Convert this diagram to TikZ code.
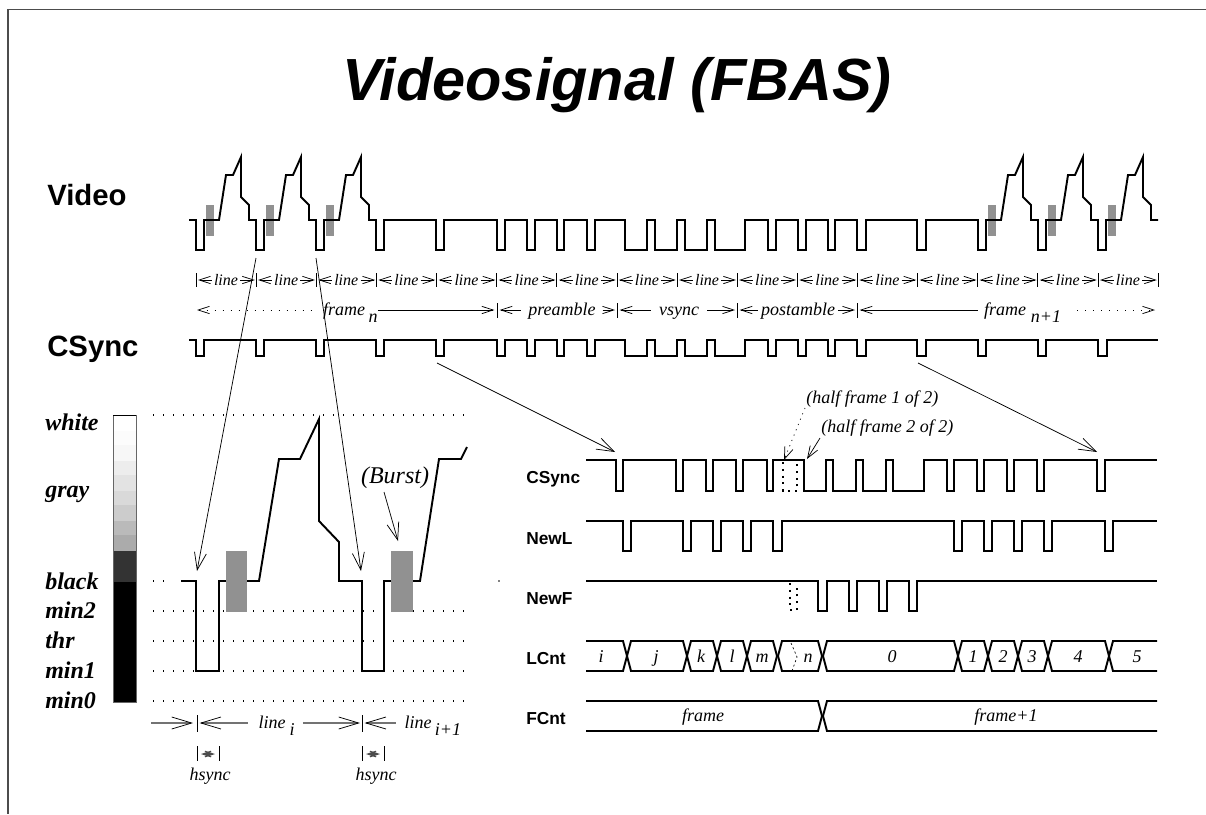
\documentclass[tikz,border=0pt]{standalone}
\usepackage{fontspec}
\setmainfont{Liberation Serif}
\setsansfont{Liberation Sans}
\usepackage{tikz}
\usetikzlibrary{arrows.meta, calc}

% edges of the sync pulses that all trains share
\def\midpulses{376/384,436/444,497/505,527/535,557/564,587/595,625/647,655/677,685/707,715/745,768/776,798/806,828/835,857/866,917/926}
\edef\csynclist{196/204,256/264,316/324,\midpulses,978/986,1038/1046,1098/1107}

\newcommand{\vbump}[1]{-- (#1,220) -- (#1,250) -- ({#1+8},250) -- ({#1+8},220) -- ({#1+23},220) -- ({#1+30},175) -- ({#1+37},175) -- ({#1+45},157) -- ({#1+45},197) -- ({#1+53},205) -- ({#1+53},220)}
\newcommand{\pulsetrain}[5]{\draw[wave] (#1,#3) foreach \a/\b in #5 {-- (\a,#3) -- (\a,#4) -- (\b,#4) -- (\b,#3)} -- (#2,#3);}
\newcommand{\busends}[5]{%
    \draw[wave] (586,#1) -- (#4,#1) -- ({#4+4},#2) -- (#4,#3) -- (586,#3);
    \draw[wave] (1157,#1) -- (#5,#1) -- ({#5-4},#2) -- (#5,#3) -- (1157,#3);}

\begin{document}
\begin{tikzpicture}[x=0.75pt, y=-0.75pt,
        every node/.style={inner sep=0pt, text height=9pt, text depth=1.5pt},
        wave/.style={line width=1.45pt},
        levelline/.style={line width=.8pt, dash pattern=on .8pt off 6.7pt},
        dotwave/.style={line width=1.4pt, dash pattern=on 1.5pt off 3.6pt},
        tickline/.style={line width=.6pt},
        arr/.style={line width=.55pt, >={Straight Barb[length=13pt,width=9pt]}},
        rowarr/.style={line width=.55pt, >={Straight Barb[length=8.5pt,width=5.5pt]}},
        rowdots/.style={rowarr, dash pattern=on .8pt off 5.2pt},
        dimarr/.style={line width=1pt, black!55, >={Straight Barb[length=15pt,width=9pt,color=black,line width=.55pt]}},
        hsyncarr/.style={line width=1pt, black!70, >={Straight Barb[length=6pt,width=4pt]}},
        smallarr/.style={line width=.55pt, >={Straight Barb[length=9pt,width=6.5pt]}},
        sig/.style={font=\fontsize{13.5}{16}\selectfont\itshape},
        linetxt/.style={font=\fontsize{12}{14}\selectfont\itshape, inner xsep=1.5pt},
        lvlname/.style={anchor=west, font=\fontsize{18}{20}\selectfont\bfseries\itshape},
        bigname/.style={anchor=west, font=\fontsize{22}{24}\selectfont\sffamily\bfseries},
        rowname/.style={anchor=west, font=\fontsize{13}{15}\selectfont\sffamily\bfseries},
        burstbox/.style={fill=black!43},
    ]
    \useasboundingbox (0,0) rectangle (1206,814);

    % ---- Page frame ----
    \draw[black!70, line width=.8pt] (1206,9.5) -- (8,9.5) -- (8,814);

    \node[font=\fontsize{44.6}{48}\selectfont\sffamily\bfseries\itshape] (title) at (617,95) {Videosignal (FBAS)};

    % ---- Video trace ----
    \node[bigname] (video) at (47,200) {Video};
    \foreach \x in {196,256,316,978,1038,1098}
        \fill[burstbox] ({\x+10},205) rectangle ({\x+18},236);
    \draw[wave] (189,220) foreach \x in {196,256,316} {\vbump{\x}}
        foreach \a/\b in \midpulses {-- (\a,220) -- (\a,250) -- (\b,250) -- (\b,220)}
        foreach \x in {978,1038,1098} {\vbump{\x}} -- (1158,220);

    % ---- Line ticks ----
    \foreach \i in {0,...,16} {
        \coordinate (tick\i) at ({196+60.13*\i},280);
        \draw[tickline] ({196+60.13*\i},273) -- ({196+60.13*\i},287);
    }
    \foreach \i [evaluate=\i as \j using int(\i+1)] in {0,...,15} {
        \node[linetxt] (line\i) at ({226+60.13*\i},280) {line};
        \draw[rowarr, ->, shorten >=1.5pt] (line\i) -- (tick\i);
        \draw[rowarr, ->, shorten >=1pt] (line\i) -- (tick\j);
    }

    % ---- Frame row ----
    \coordinate (fstart) at (197,310);
    \coordinate (fend) at (1155,310);
    \coordinate (fdots) at (1077,310);
    \foreach \n/\x in {a/497,b/617,c/737,d/857} {
        \coordinate (f\n) at (\x,310);
        \draw[tickline] (\x,303) -- (\x,318);
    }
    \node[sig, inner xsep=7pt] (framen) at (344,310) {frame};
    \node[sig] (subn) at (373,317) {n};
    \node[sig, inner xsep=5pt] (pre) at (562,310) {preamble};
    \node[sig, inner xsep=6pt] (vsync) at (679,310) {vsync};
    \node[sig, inner xsep=2pt] (post) at (798,310) {postamble};
    \node[sig, inner xsep=4pt] (framem) at (1005,310) {frame};
    \node[sig] (subm) at (1046,317) {n+1};
    \draw[rowdots, <-] (fstart) -- (framen);
    \draw[rowarr, ->, shorten >=2pt] (subn.east |- fa) -- (fa);
    \draw[rowarr, <-, shorten <=2pt] (fa) -- (pre);
    \draw[rowarr, ->, shorten >=1.5pt] (pre) -- (fb);
    \draw[rowarr, <-, shorten <=2pt] (fb) -- (vsync);
    \draw[rowarr, ->, shorten >=1.5pt] (vsync) -- (fc);
    \draw[rowarr, <-, shorten <=2pt] (fc) -- (post);
    \draw[rowarr, ->, shorten >=1.5pt] (post) -- (fd);
    \draw[rowarr, <-, shorten <=2pt] (fd) -- (framem);
    \draw[rowdots, ->] (fdots) -- (fend);

    % ---- CSync trace ----
    \node[bigname] (csync) at (47,351) {CSync};
    \pulsetrain{189}{1158}{340}{356}{\csynclist}

    % ---- Gray scale bar ----
    \foreach \a/\b/\c in {415/431/0,431/445/1,445/461/3,461/475/7,475/491/11,491/505/15,505/521/20,521/535/27,535/551/33,551/582/80,582/702/100}
        \fill[black!\c] (113,\a) rectangle (136,\b);
    \draw[black!60, line width=.6pt] (113,415.5) rectangle (136,702);
    \draw[black, line width=.6pt] (113,415.5) -- (136,415.5);
    \foreach \n/\t/\y in {white/white/425,gray/gray/492,black/black/584,mintwo/min2/613,thr/thr/643,minone/min1/673,minzero/min0/703}
        \node[lvlname] (\n) at (45,\y) {\t};

    % ---- Level lines ----
    \foreach \y in {415,611,641,671,701}
        \draw[levelline] (153,\y) -- (467,\y);
    \draw[levelline] (153,581) -- (172,581);
    \fill (499,581) circle (.6pt);

    % ---- Enlarged video line ----
    \draw[wave] (181,581) -- (196,581) -- (196,671) -- (219,671) -- (219,581) -- (259,581)
        -- (279,459) -- (300,459) -- (319,419) -- (319,521) -- (339,542) -- (339,581)
        -- (362,581) -- (362,671) -- (384,671) -- (384,581) -- (420,581)
        -- (439,459) -- (461,459) -- (467,447);
    \fill[burstbox] (226,551) rectangle (247,612);
    \fill[burstbox] (391,551) rectangle (413,612);
    \node[font=\fontsize{18}{20}\selectfont\itshape] (burstlab) at (395,478) {(Burst)};
    \coordinate (burstfrom) at (384,492);
    \coordinate (bursttip) at (398,541);
    \draw[arr, ->] (burstfrom) -- (bursttip);

    % ---- Arrows from the traces to the enlargements ----
    \coordinate (va) at (256,258);
    \coordinate (vb) at (316,258);
    \coordinate (ca) at (197,571);
    \coordinate (cb) at (361,571);
    \coordinate (sa) at (437,363);
    \coordinate (sb) at (918,363);
    \coordinate (ta) at (615,452);
    \coordinate (tb) at (1097,452);
    \draw[arr, ->] (va) -- (ca);
    \draw[arr, ->] (vb) -- (cb);
    \draw[arr, ->] (sa) -- (ta);
    \draw[arr, ->] (sb) -- (tb);

    % ---- Line dimensions ----
    \coordinate (dstart) at (151,723);
    \coordinate (lta) at (197,723);
    \coordinate (ltb) at (362,723);
    \draw[tickline] (197,715) -- (197,732);
    \draw[tickline] (362,715) -- (362,732);
    \node[sig, inner xsep=8pt] (linei) at (272,723) {line};
    \node[sig, inner xsep=6pt] (subi) at (292,730) {i};
    \node[sig, inner xsep=6pt] (linej) at (418,723) {line};
    \node[sig] (subj) at (448,730) {i+1};
    \draw[dimarr, ->, shorten >=3pt] (dstart) -- (lta);
    \draw[dimarr, <-, shorten <=2pt] (lta) -- (linei);
    \draw[dimarr, ->, shorten >=1.5pt] (subi.east |- ltb) -- (ltb);
    \draw[dimarr, <-, shorten <=2pt] (ltb) -- (linej);

    % ---- Hsync widths ----
    \foreach \n/\x/\y/\m in {a/197/219/210,b/362/384/376} {
        \coordinate (hl\n) at (\x,754);
        \coordinate (hr\n) at (\y,754);
        \draw[tickline] (\x,746) -- (\x,761);
        \draw[tickline] (\y,746) -- (\y,761);
        \draw[hsyncarr, <->, shorten <=3pt, shorten >=3pt] (hl\n) -- (hr\n);
        \node[sig] (hsync\n) at (\m,775) {hsync};
    }

    % ---- Timing rows: names ----
    \node[rowname] (tcsync) at (526,478) {CSync};
    \node[rowname] (tnewl) at (526,539) {NewL};
    \node[rowname] (tnewf) at (526,599) {NewF};
    \node[rowname] (tlcnt) at (526,659) {LCnt};
    \node[rowname] (tfcnt) at (526,719) {FCnt};

    % ---- Half frame notes ----
    \node[sig, anchor=west] (halfa) at (806,398) {(half frame 1 of 2)};
    \node[sig, anchor=west] (halfb) at (821,427) {(half frame 2 of 2)};
    \coordinate (hafrom) at (805,408);
    \coordinate (hatip) at (784,460);
    \coordinate (hbfrom) at (820,438);
    \coordinate (hbtip) at (807,459);
    \draw[smallarr, ->, dash pattern=on .8pt off 3.5pt] (hafrom) -- (hatip);
    \draw[smallarr, ->] (hbfrom) -- (hbtip);

    % ---- Timing rows: traces ----
    \pulsetrain{586}{1157}{460}{491}{{616/623,676/683,706/713,736/743,767/773,804/826,833/856,863/886,893/924,947/954,977/984,1007/1014,1037/1044,1097/1105}}
    \draw[dotwave] (783,462) -- (783,491) -- (797,491) -- (797,462);

    \pulsetrain{586}{1157}{521}{551}{{623/631,683/691,713/721,743/751,773/782,954/962,984/992,1014/1022,1044/1052,1105/1113}}

    \pulsetrain{586}{1157}{581}{611}{{818/827,849/857,879/887,909/917}}
    \draw[dotwave] (790,583) -- (790,610) -- (797,610) -- (797,583);

    \busends{641}{656}{671}{623}{1113}
    \foreach \a/\b in {631/683,691/713,721/743,751/773,782/818,827/954,962/984,992/1014,1022/1044,1052/1105}
        \draw[wave] ({\a-4},656) -- (\a,641) -- (\b,641) -- ({\b+4},656) -- (\b,671) -- (\a,671) -- cycle;
    \draw[line width=.5pt, dash pattern=on 1.5pt off 2pt] (791,643) -- (797,657) -- (792,671);
    \foreach \n/\t/\x in {i/i/601,j/j/656,k/k/701,l/l/732,m/m/762,n/n/808,z/0/892,a/1/973,b/2/1003,c/3/1032,d/4/1078,e/5/1137}
        \node[sig] (cell\n) at (\x,657) {\t};

    \busends{701}{716}{731}{818}{827}
    \node[sig] (fcnta) at (703,716) {frame};
    \node[sig] (fcntb) at (1006,716) {frame+1};
\end{tikzpicture}
\end{document}
